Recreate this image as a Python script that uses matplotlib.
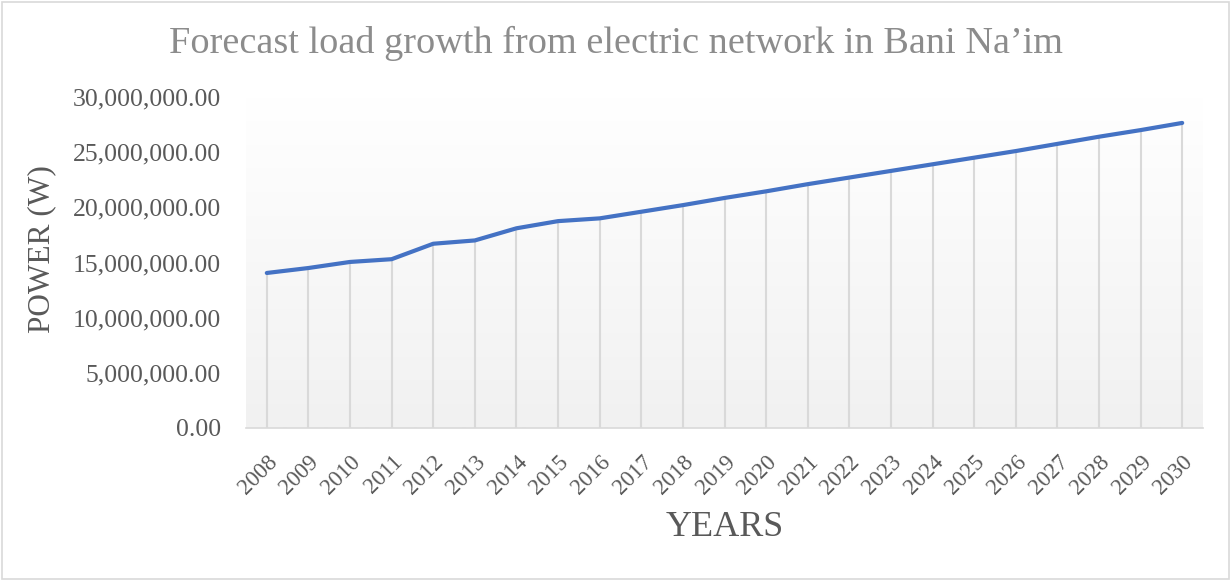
import numpy as np
import matplotlib.pyplot as plt
from matplotlib.colors import LinearSegmentedColormap
from matplotlib.patches import Rectangle
from matplotlib.ticker import FuncFormatter

# Forecast load (W) for the Bani Na'im network, 2008-2030
years = [str(y) for y in range(2008, 2031)]
power_w = [
    14.05e6, 14.5e6, 15.05e6, 15.3e6, 16.7e6, 17.0e6, 18.1e6, 18.75e6,
    19.0e6, 19.6e6, 20.2e6, 20.85e6, 21.45e6, 22.1e6, 22.7e6, 23.3e6,
    23.9e6, 24.5e6, 25.1e6, 25.75e6, 26.4e6, 27.0e6, 27.65e6,
]
y_ticks = [0, 5e6, 10e6, 15e6, 20e6, 25e6, 30e6]

plt.rcParams["font.family"] = ["Liberation Serif", "DejaVu Serif"]

W, H = 1231, 581
fig = plt.figure(figsize=(W / 100, H / 100), dpi=100)
fig.patches.append(Rectangle((0.002, 0.004), 0.996, 0.992, transform=fig.transFigure,
                             fill=False, edgecolor="#d9d9d9", linewidth=1.2))

ax = fig.add_axes([246 / W, 1 - 428 / H, (1203 - 246) / W, (428 - 97) / H])
x = np.arange(len(years))

# ── Plot-area gradient (white at top, light grey at bottom) ──────────────────
grad = np.linspace(1.0, 0.0, 256).reshape(-1, 1)
bg_cmap = LinearSegmentedColormap.from_list("bg", ["#f1f1f1", "#ffffff"])
ax.imshow(grad, cmap=bg_cmap, aspect="auto",
          extent=(-0.5, len(years) - 0.5, 0, 30e6), zorder=0, origin="upper")

# ── Drop lines and series ────────────────────────────────────────────────────
ax.vlines(x, 0, power_w, color="#d9d9d9", linewidth=1.5, zorder=1)
ax.plot(x, power_w, color="#4472C4", linewidth=3.0, solid_capstyle="round", zorder=3)

ax.set_xlim(-0.5, len(years) - 0.5)
ax.set_ylim(0, 30e6)
ax.set_yticks(y_ticks)
ax.yaxis.set_major_formatter(FuncFormatter(lambda v, _: f"{v:,.2f}"))
ax.set_xticks(x)
ax.set_xticklabels(years, rotation=45, ha="right", va="top", rotation_mode="anchor")

ax.tick_params(axis="y", length=0, labelsize=18.5, colors="#595959", pad=18)
ax.tick_params(axis="x", length=0, labelsize=16.5, colors="#595959", pad=17)

for side in ("top", "right", "left"):
    ax.spines[side].set_visible(False)
ax.spines["bottom"].set_color("#d9d9d9")
ax.spines["bottom"].set_linewidth(1.2)

fig.text(616 / W, 1 - 43 / H, "Forecast load growth from electric network in Bani Na\u2019im",
         ha="center", va="center", fontsize=27.5, color="#8c8c8c")
fig.text(42 / W, 1 - 249 / H, "POWER (W)", rotation=90,
         ha="center", va="center", fontsize=22.5, color="#595959")
fig.text(725 / W, 1 - 528 / H, "YEARS",
         ha="center", va="center", fontsize=26, color="#595959")

fig.savefig("out.png", dpi=100)
